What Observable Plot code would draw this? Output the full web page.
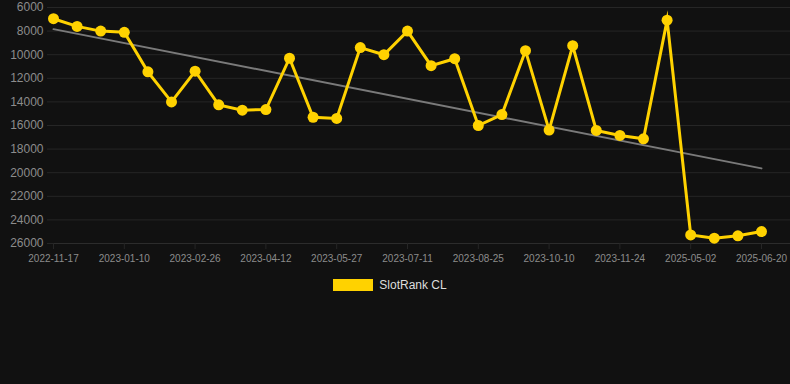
<!DOCTYPE html>
<html>
<head>
<meta charset="utf-8">
<script src="https://cdn.jsdelivr.net/npm/d3@7"></script>
<script src="https://cdn.jsdelivr.net/npm/@observablehq/plot@0.6"></script>
<style>
  html, body { margin: 0; padding: 0; background: #111111; }
  body { width: 790px; height: 384px; overflow: hidden; font-family: "Liberation Sans", Arial, Helvetica, sans-serif; }
  #legend { display: flex; justify-content: center; align-items: center; margin-top: 8px; font-size: 12px; color: #dddddd; padding-right: 10px; }
  #legend .sw { width: 40px; height: 12px; background: #ffd200; margin-right: 6px; }
</style>
</head>
<body>
<div id="chart"></div>
<div id="legend"><div class="sw"></div><span>SlotRank CL</span></div>
<script>
const dates = [
  "2022-11-17","2022-12-05","2022-12-23","2023-01-10","2023-01-26","2023-02-11",
  "2023-02-26","2023-03-13","2023-03-28","2023-04-12","2023-04-27","2023-05-12",
  "2023-05-27","2023-06-11","2023-06-26","2023-07-11","2023-07-26","2023-08-10",
  "2023-08-25","2023-09-09","2023-09-25","2023-10-10","2023-10-25","2023-11-09",
  "2023-11-24","2023-12-09","2023-12-24","2025-05-02","2025-05-18","2025-06-04",
  "2025-06-20"
];
const ranks = [
  6950, 7600, 8000, 8100, 11450, 14000,
  11400, 14250, 14700, 14650, 10300, 15300,
  15400, 9400, 10000, 8000, 10930, 10340,
  16000, 15070, 9660, 16390, 9240, 16420,
  16840, 17125, 7070, 25270, 25550, 25350,
  24990
];
const yTicks = [6000, 8000, 10000, 12000, 14000, 16000, 18000, 20000, 22000, 24000, 26000];
const xTickIdx = [0, 3, 6, 9, 12, 15, 18, 21, 24, 27, 30];

const data = ranks.map((v, i) => ({i, date: dates[i], rank: v}));
const gridColor = "#262626";
const W = 790;
const mL = 53;
const lastX = 761;
const xMax = (dates.length - 1) * (W - mL) / (lastX - mL);

const chart = Plot.plot({
  width: W,
  height: 270,
  marginLeft: mL,
  marginRight: 0,
  marginTop: 7,
  marginBottom: 27,
  style: {background: "#111111", fontFamily: "'Liberation Sans', Arial, Helvetica, sans-serif", overflow: "visible"},
  x: {type: "linear", domain: [0, xMax]},
  y: {domain: [26000, 6000], range: [243, 7]},
  marks: [
    Plot.gridY(yTicks, {stroke: gridColor, strokeOpacity: 1, strokeWidth: 1}),
    Plot.gridX(xTickIdx, {stroke: gridColor, strokeOpacity: 1, strokeWidth: 1, y1: 0, y2: 243}),
    Plot.ruleY([26000], {stroke: "#2c2c2c"}),
    Plot.axisY(yTicks, {tickSize: 6, tickPadding: 4, stroke: gridColor, fill: "#8c8c8c", fontSize: 12, label: null,
      tickFormat: d => String(d)}),
    Plot.axisX(xTickIdx, {tickSize: 6, tickPadding: 5, stroke: gridColor, fill: "#8c8c8c", fontSize: 10, label: null,
      tickFormat: i => dates[i]}),
    Plot.linearRegressionY(data, {x: "i", y: "rank", ci: 0, stroke: "#7a7a7a", strokeWidth: 2}),
    Plot.line(data, {x: "i", y: "rank", stroke: "#ffd200", strokeWidth: 3, strokeLinejoin: "miter", strokeMiterlimit: 10}),
    Plot.dot(data, {x: "i", y: "rank", r: 5.5, fill: "#ffd200", stroke: "none"})
  ]
});
document.getElementById("chart").appendChild(chart);
</script>
</body>
</html>
